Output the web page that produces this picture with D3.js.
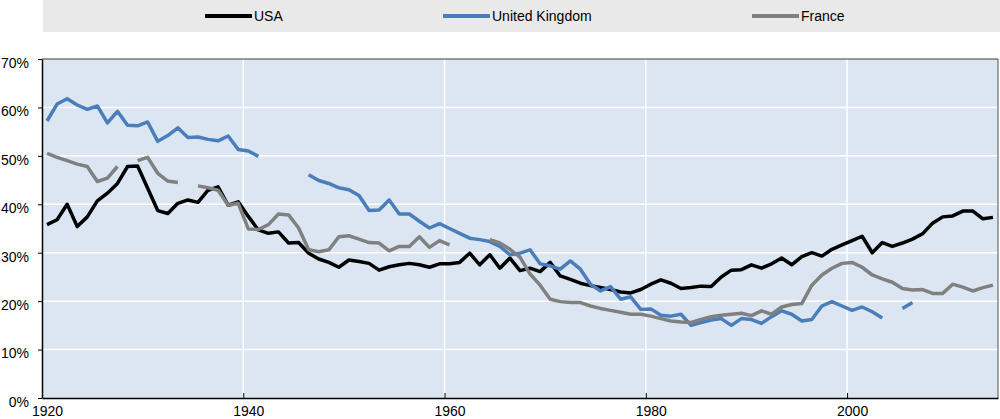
<!DOCTYPE html>
<html>
<head>
<meta charset="utf-8">
<script src="https://cdn.jsdelivr.net/npm/d3@7"></script>
<style>
  html, body { margin: 0; padding: 0; background: #ffffff; }
  svg { display: block; font-family: "Liberation Sans", Arial, sans-serif; }
</style>
</head>
<body>
<svg id="chart" width="1000" height="419"></svg>
<script>
// ---- Data (share, %) ----
const startYear = 1920;
const endYear = 2014;
const seriesNames = ["USA", "United Kingdom", "France"];
const usa = [
  35.8, 36.8, 40.0, 35.4, 37.4, 40.7, 42.3, 44.3, 47.8, 47.9,
  43.3, 38.7, 38.1, 40.2, 40.9, 40.4, 42.9, 43.6, 39.8, 40.5,
  37.5, 34.7, 34.0, 34.3, 32.0, 32.1, 29.9, 28.7, 28.0, 27.0,
  28.5, 28.2, 27.8, 26.4, 27.1, 27.5, 27.8, 27.5, 27.0, 27.7,
  27.7, 28.0, 29.9, 27.5, 29.6, 26.8, 28.9, 26.3, 26.8, 26.1,
  28.0, 25.2, 24.5, 23.7, 23.2, 22.8, 22.4, 21.9, 21.7, 22.4,
  23.5, 24.4, 23.7, 22.6, 22.8, 23.1, 23.0, 25.0, 26.4, 26.5,
  27.5, 26.8, 27.7, 28.9, 27.5, 29.2, 30.0, 29.3, 30.7, 31.6,
  32.5, 33.4, 30.0, 32.1, 31.3, 32.0, 32.8, 33.9, 36.1, 37.4,
  37.6, 38.6, 38.6, 37.0, 37.3
];
const uk = [
  57.2, 60.7, 61.8, 60.5, 59.6, 60.3, 56.8, 59.2, 56.3, 56.2,
  57.0, 53.0, 54.2, 55.8, 53.8, 53.9, 53.4, 53.1, 54.1, 51.3,
  51.0, 49.9, null, null, null, null, 46.1, 44.9, 44.3, 43.4,
  43.0, 41.8, 38.7, 38.8, 40.9, 38.0, 38.0, 36.5, 35.1, 36.0,
  35.0, 34.0, 33.0, 32.7, 32.3, 31.3, 29.6, 29.9, 30.6, 27.7,
  27.3, 26.6, 28.3, 26.6, 23.5, 22.1, 23.0, 20.4, 20.9, 18.3,
  18.4, 17.1, 16.9, 17.3, 15.0, 15.6, 16.1, 16.4, 15.0, 16.4,
  16.2, 15.4, 16.8, 18.0, 17.3, 15.9, 16.2, 19.0, 19.9, 19.0,
  18.1, 18.8, 17.8, 16.5, null, 18.5, 19.7, null, null, null,
  null, null, null, null, null
];
const france = [
  50.5, 49.7, 49.0, 48.3, 47.8, 44.7, 45.4, 47.8, null, 49.0,
  49.7, 46.4, 44.8, 44.5, null, 43.8, 43.4, 42.9, 39.8, 40.2,
  34.9, 34.8, 35.8, 38.0, 37.8, 35.1, 30.6, 30.2, 30.6, 33.3,
  33.5, 32.8, 32.1, 32.0, 30.4, 31.3, 31.3, 33.3, 31.1, 32.5,
  31.6, null, null, null, 32.7, 32.0, 30.7, 29.1, 25.6, 23.3,
  20.4, 19.9, 19.7, 19.7, 19.0, 18.5, 18.1, 17.7, 17.3, 17.3,
  16.9, 16.4, 15.9, 15.7, 15.6, 16.2, 16.8, 17.1, 17.3, 17.5,
  17.0, 18.0, 17.3, 18.8, 19.3, 19.5, 23.3, 25.4, 26.8, 27.8,
  28.0, 27.0, 25.4, 24.6, 23.9, 22.6, 22.3, 22.4, 21.6, 21.6,
  23.5, 22.9, 22.1, 22.8, 23.3
];
const yTicks = [0, 10, 20, 30, 40, 50, 60, 70];
const xTicks = [1920, 1940, 1960, 1980, 2000];

// ---- Layout ----
const svg = d3.select("#chart");
const W = 1000, H = 419;
const mLeft = 42, mRight = 998, mTop = 59, mBottom = 398;
const colors = ["#000000", "#4a7ebb", "#808080"];
const allSeries = [usa, uk, france];

const x = d3.scaleLinear().domain([1920, 2015]).range([mLeft, mRight]);
const y = d3.scaleLinear().domain([0, 70]).range([mBottom, mTop]);
const halfYear = (x(1921) - x(1920)) / 2;

// legend band
svg.append("rect").attr("x", mLeft + 1).attr("y", 0)
  .attr("width", W - mLeft - 1).attr("height", 32).attr("fill", "#e9e9e9");

const legendX = [205, 443, 752];
seriesNames.forEach((name, i) => {
  const g = svg.append("g").attr("transform", `translate(${legendX[i]},16)`);
  g.append("line").attr("x1", 0).attr("x2", 47).attr("y1", 0).attr("y2", 0)
    .attr("stroke", colors[i]).attr("stroke-width", 4);
  g.append("text").attr("x", 49).attr("y", 5).attr("font-size", 14)
    .attr("fill", "#000").text(name);
});

// plot background
svg.append("rect").attr("x", mLeft).attr("y", mTop)
  .attr("width", mRight - mLeft).attr("height", mBottom - mTop).attr("fill", "#dce6f2");

// gridlines
svg.append("g").selectAll("line").data(yTicks.filter(t => t > 0 && t < 70)).join("line")
  .attr("x1", mLeft).attr("x2", mRight)
  .attr("y1", d => y(d)).attr("y2", d => y(d))
  .attr("stroke", "#ffffff").attr("stroke-width", 1.5);
svg.append("g").selectAll("line").data(xTicks.filter(t => t > 1920)).join("line")
  .attr("x1", d => x(d)).attr("x2", d => x(d))
  .attr("y1", mTop).attr("y2", mBottom)
  .attr("stroke", "#ffffff").attr("stroke-width", 1.5);

// top and right border
svg.append("line").attr("x1", mLeft).attr("x2", mRight).attr("y1", mTop).attr("y2", mTop)
  .attr("stroke", "#3a3a3a").attr("stroke-width", 1.2);
svg.append("line").attr("x1", mRight).attr("x2", mRight).attr("y1", mTop).attr("y2", mBottom)
  .attr("stroke", "#555555").attr("stroke-width", 1);

// lines
const years = d3.range(startYear, endYear + 1);
const line = d3.line()
  .defined(d => d[1] !== null)
  .x(d => x(d[0] + 0.5))
  .y(d => y(d[1]));
allSeries.forEach((vals, i) => {
  svg.append("path")
    .datum(years.map((yr, k) => [yr, vals[k]]))
    .attr("d", line)
    .attr("fill", "none")
    .attr("stroke", colors[i])
    .attr("stroke-width", 3.5)
    .attr("stroke-linejoin", "round")
    .attr("stroke-linecap", "butt");
});

// y axis
const yAxis = svg.append("g").attr("transform", `translate(${mLeft},0)`)
  .call(d3.axisLeft(y).tickValues(yTicks).tickFormat(d => d + "%")
    .tickSize(4).tickSizeOuter(0).tickPadding(9));
yAxis.select(".domain").attr("stroke", "#000").attr("stroke-width", 1.5);
yAxis.selectAll(".tick line").attr("stroke", "#000");
yAxis.selectAll("text").attr("dy", "0.6em").attr("font-size", 14)
  .attr("font-family", "Liberation Sans, Arial, sans-serif").attr("fill", "#000");

// x axis
const xAxis = svg.append("g").attr("transform", `translate(0,${mBottom})`)
  .call(d3.axisBottom(x).tickValues(xTicks).tickFormat(d3.format("d"))
    .tickSize(-5).tickSizeOuter(0).tickPadding(8));
xAxis.select(".domain").attr("stroke", "#000").attr("stroke-width", 1.5);
xAxis.selectAll(".tick line").attr("stroke", "#000");
xAxis.selectAll("text").attr("x", halfYear).attr("font-size", 14)
  .attr("font-family", "Liberation Sans, Arial, sans-serif").attr("fill", "#000");
</script>
</body>
</html>
